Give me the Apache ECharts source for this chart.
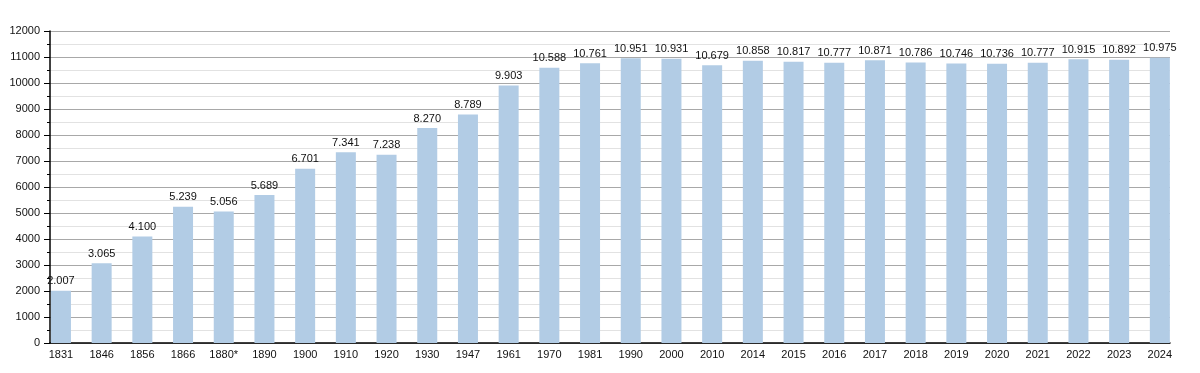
<!DOCTYPE html>
<html><head><meta charset="utf-8">
<script src="https://cdn.jsdelivr.net/npm/echarts@6/dist/echarts.min.js"></script>
<style>html,body{margin:0;padding:0;background:#fff}#c{width:1200px;height:373px}</style>
</head><body><div id="c"></div>
<script>
const categories = ['1831','1846','1856','1866','1880*','1890','1900','1910','1920','1930','1947','1961','1970','1981','1990','2000','2010','2014','2015','2016','2017','2018','2019','2020','2021','2022','2023','2024'];
const population = [2007,3065,4100,5239,5056,5689,6701,7341,7238,8270,8789,9903,10588,10761,10951,10931,10679,10858,10817,10777,10871,10786,10746,10736,10777,10915,10892,10975];
const yMin = 0, yMax = 12000, yStep = 1000;

const fmt = v => String(v).replace(/\B(?=(\d{3})+(?!\d))/g, '.');
const font = 'Liberation Sans, Arial, sans-serif';
const chart = echarts.init(document.getElementById('c'), null, {renderer:'canvas'});
chart.setOption({
  animation:false,
  grid:[
    {left:50, width:1120, top:31, bottom:30},
    {left:40.6, width:1139.6, top:31, bottom:30}
  ],
  xAxis:[
    {gridIndex:0, type:'value', min:0, max:1, show:true, axisLine:{show:true,lineStyle:{color:'#000',width:1.5}}, axisTick:{show:false}, axisLabel:{show:false}, splitLine:{show:false}},
    {gridIndex:1, type:'category', data:categories, axisLine:{show:false}, axisTick:{show:false},
     axisLabel:{color:'#111', fontFamily:font, fontSize:11, margin:6, interval:0}}
  ],
  yAxis:[
    {gridIndex:0, type:'value', min:yMin, max:yMax, interval:yStep,
     axisLine:{show:true, lineStyle:{color:'#000', width:1.5}},
     axisTick:{show:true, length:6, lineStyle:{color:'#000'}},
     minorTick:{show:true, splitNumber:2, length:3, lineStyle:{color:'#000'}},
     axisLabel:{color:'#111', fontFamily:font, fontSize:11, margin:10, formatter:v=>String(v)},
     splitLine:{show:true, lineStyle:{color:'#a8a8a8', width:1}},
     minorSplitLine:{show:true, lineStyle:{color:'#e2e2e2', width:1}},
     z:0},
    {gridIndex:1, type:'value', min:yMin, max:yMax, interval:yStep, show:false, splitLine:{show:false}}
  ],
  series:[{
    type:'bar', xAxisIndex:1, yAxisIndex:1, data:population, barWidth:20,
    itemStyle:{color:'#b2cce5'},
    label:{show:true, position:'top', distance:4, color:'#111', fontFamily:font, fontSize:11, formatter:p=>fmt(p.value)}
  }]
});
</script></body></html>
